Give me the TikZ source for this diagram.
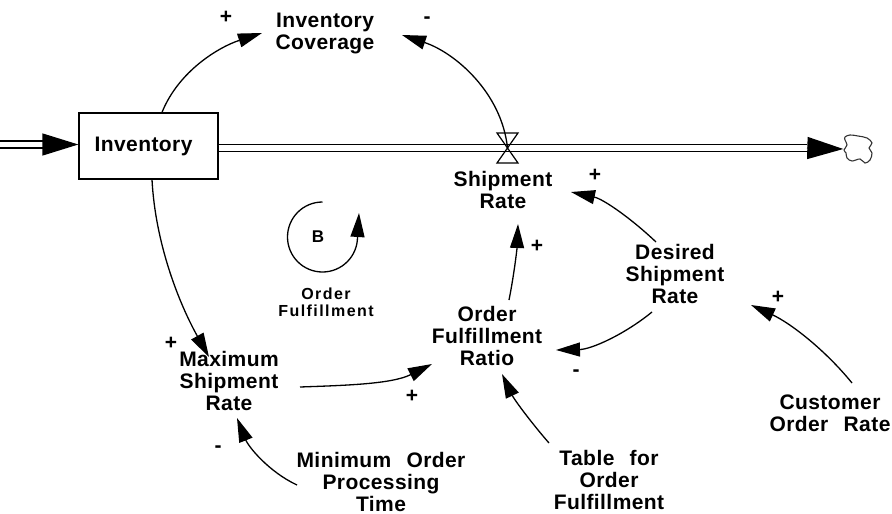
\documentclass[tikz,border=0pt]{standalone}
\usepackage{fontspec}
\setmainfont{Liberation Sans}
\newfontfamily\varfont{Liberation Sans}[LetterSpace=2.0]
\newfontfamily\loopfont{Liberation Sans}[LetterSpace=9.0]
\usetikzlibrary{arrows.meta}

\tikzset{
  var/.style={font=\varfont\bfseries\fontsize{21}{22}\selectfont, align=center, inner sep=0pt},
  stock/.style={var, draw, line width=1.3pt, minimum width=139pt, minimum height=66pt},
  looptext/.style={font=\loopfont\bfseries\fontsize{16}{17}\selectfont, align=center, inner sep=0pt},
  loopsym/.style={font=\bfseries\fontsize{17}{17}\selectfont, inner sep=0pt},
  sign/.style={font=\bfseries\fontsize{21}{21}\selectfont, inner sep=0pt},
  link/.style={line width=1.3pt, -{Triangle[length=24pt,width=14pt]}},
  pipe/.style={double, double distance=5.5pt, line width=1.3pt},
  flowtip/.style={line width=1.3pt, -{Triangle[length=36pt,width=22pt]}},
}

\begin{document}
\begin{tikzpicture}[x=1pt, y=-1pt]
\useasboundingbox (0,0) rectangle (892,514);

% stock, flow and sink
\node[stock] (inv) at (148.5,146) {Inventory\hspace*{10pt}};
\coordinate (source) at (0,144.5);
\coordinate (inhead) at (43,144.5);
\coordinate (outhead) at (807,148);
\coordinate (valve) at (507.5,148);
\node[minimum width=29pt, minimum height=28pt, inner sep=0pt] (sink) at (858,149) {};

\draw[pipe] (source) -- (inhead);
\draw[flowtip] (inhead) -- ([shift={(0,-1.5)}]inv.west);
\draw[pipe] ([shift={(0,2)}]inv.east) -- (outhead);
\draw[flowtip] (outhead) -- (sink.west);

% valve on the outflow pipe
\draw[line width=1.2pt]
  ([shift={(-10.5,-15)}]valve) -- ([shift={(10.5,-15)}]valve) --
  ([shift={(-10.5,15)}]valve) -- ([shift={(10.5,15)}]valve) -- cycle;

% cloud at the end of the outflow
\draw[line width=1.1pt, black!80] plot[smooth cycle, tension=0.6] coordinates {
  (845,137) (850,135) (858,136) (867,138) (872,143) (869,148) (872,153)
  (870,160) (865,163) (860,159) (852,161) (847,158) (846,153) (844,150)
  (847,145) (845,140)};

% auxiliary variables
\node[var] (invcov)   at (325,33.4)  {Inventory\\Coverage};
\node[var] (shiprate) at (503,190.2) {Shipment\\Rate};
\node[var] (maxship)  at (229,381.4) {Maximum\\Shipment\\Rate};
\node[var] (ratio)    at (487,336.4) {Order\\Fulfillment\\Ratio};
\node[var] (minorder) at (381,481.5) {Minimum\hspace{9pt} Order\\Processing\\Time};
\node[var] (table)    at (609,480)   {Table\hspace{9pt} for\\Order\\Fulfillment};
\node[var] (desired)  at (675,274.4) {Desired\\Shipment\\Rate};
\node[var] (customer) at (830,413)   {Customer\\Order\hspace{9pt} Rate};

% balancing loop marker
\node[loopsym] (bsym) at (318,237) {B};
\node[looptext] (bname) at (326,302.7) {Order\\Fulfillment};
\draw[link] ([shift={(4.5,-35)}]bsym.center)
  arc[start angle=-90, end angle=-360, radius=35] -- ++(1.5,-24);

% causal links
\draw[link] ([shift={(13.5,0)}]inv.north)
  .. controls +(16.9,-41.7) and +(-42.8,13.9) .. ([shift={(-63,-0.4)}]invcov.center);
\draw[link] (valve)
  .. controls +(-5.8,-55.4) and +(52.9,17.6) .. ([shift={(77,1.6)}]invcov.center);
\draw[link] ([shift={(3.5,0)}]inv.south)
  .. controls +(3.3,62.9) and +(-30.7,-55) .. ([shift={(-20,-24.4)}]maxship.center);
\draw[link] ([shift={(71,5.6)}]maxship.center)
  .. controls +(45,-1.6) and +(-40.2,20.1) .. ([shift={(-55,27.6)}]ratio.center);
\draw[link] ([shift={(-84,3.5)}]minorder.center)
  .. controls +(-28.1,-13.1) and +(11.5,28.8) .. ([shift={(8,36.6)}]maxship.center);
\draw[link] ([shift={(-60,-37)}]table.center)
  .. controls +(-18.4,-21.1) and +(12.1,25.3) .. ([shift={(15,37.6)}]ratio.center);
\draw[link] ([shift={(22,-36.4)}]ratio.center)
  .. controls +(5,-25) and +(-1,25) .. ([shift={(15,33.8)}]shiprate.center);
\draw[link] ([shift={(-19,-32.4)}]desired.center)
  .. controls +(-24.2,-23) and +(32.6,7.1) .. ([shift={(68,1.8)}]shiprate.center);
\draw[link] ([shift={(-23,37.6)}]desired.center)
  .. controls +(-27.4,22.4) and +(35.4,-0.7) .. ([shift={(69,13.6)}]ratio.center);
\draw[link] ([shift={(22,-30)}]customer.center)
  .. controls +(-27.1,-33.4) and +(39.1,17.9) .. ([shift={(76,30.6)}]desired.center);

% link polarities
\node[sign] (s1) at (226,17)  {+};
\node[sign] (s2) at (427,20)  {-};
\node[sign] (s3) at (171,343) {+};
\node[sign] (s4) at (412,396) {+};
\node[sign] (s5) at (218,449) {-};
\node[sign] (s6) at (537,246) {+};
\node[sign] (s7) at (595,175) {+};
\node[sign] (s8) at (576,373) {-};
\node[sign] (s9) at (778,297) {+};
\end{tikzpicture}
\end{document}
